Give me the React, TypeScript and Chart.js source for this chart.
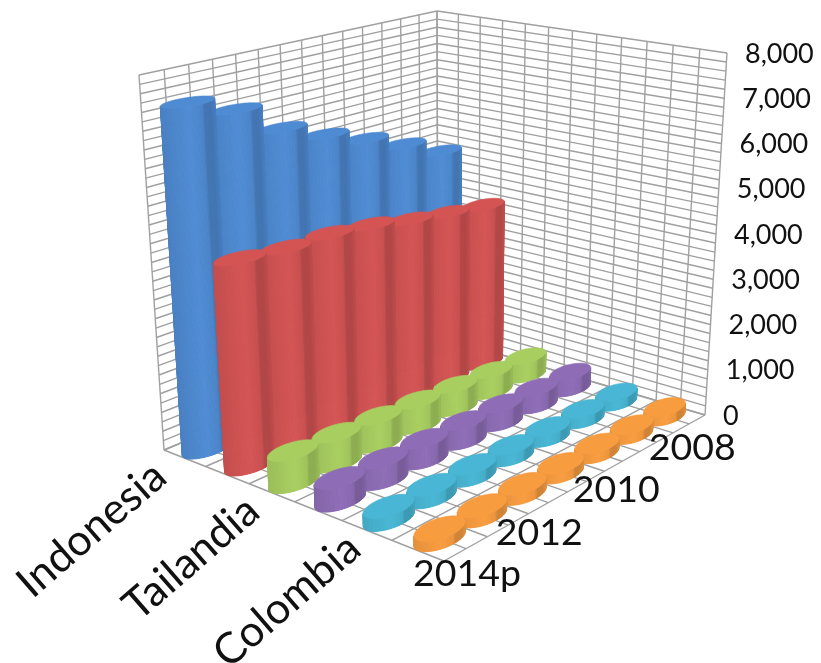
import React, { useEffect, useRef } from "react";
import { Chart, BarController, BarElement, CategoryScale, LinearScale } from "chart.js";

const years = ["2008", "2009", "2010", "2011", "2012", "2013", "2014p"];
const yearTickLabels = ["2008", "", "2010", "", "2012", "", "2014p"];
const seriesLabels = ["Indonesia", "", "Tailandia", "", "Colombia", ""];
const serie1 = [4800, 5220, 5600, 5950, 6350, 7010, 7400];
const serie2 = [3725, 3840, 3970, 4150, 4255, 4255, 4340];
const serie3 = [430, 470, 510, 550, 590, 620, 650];
const serie4 = [370, 390, 410, 420, 430, 440, 450];
const serie5 = [220, 225, 230, 235, 240, 245, 250];
const serie6 = [210, 210, 205, 200, 200, 195, 195];
const allSeries = [serie1, serie2, serie3, serie4, serie5, serie6];
const colors = ["#4f8bd3", "#d45454", "#a8ce60", "#8e6db6", "#48b6d4", "#f89c40"];

type P = [number, number];
const homography = (p0: P, p1: P, p2: P, p3: P) => {
  const dx1 = p1[0] - p2[0], dx2 = p3[0] - p2[0], sx = p0[0] - p1[0] + p2[0] - p3[0];
  const dy1 = p1[1] - p2[1], dy2 = p3[1] - p2[1], sy = p0[1] - p1[1] + p2[1] - p3[1];
  const den = dx1 * dy2 - dx2 * dy1;
  const g = (sx * dy2 - dx2 * sy) / den, h = (dx1 * sy - sx * dy1) / den;
  const a = p1[0] - p0[0] + g * p1[0], b = p3[0] - p0[0] + h * p3[0], c = p0[0];
  const d = p1[1] - p0[1] + g * p1[1], e = p3[1] - p0[1] + h * p3[1], f = p0[1];
  return (u: number, v: number): P => {
    const w = g * u + h * v + 1;
    return [(a * u + b * v + c) / w, (d * u + e * v + f) / w];
  };
};
const floorMap = homography([164, 450], [444, 561], [705, 415], [438, 336]);
const topMap = homography([139, 75], [445, 138], [727, 53], [437, 11]);
const project = (u: number, v: number, h: number): P => {
  const a = floorMap(u, v), b = topMap(u, v);
  return [a[0] + (b[0] - a[0]) * h, a[1] + (b[1] - a[1]) * h];
};

const mix = (hex: string, f: number) => {
  const n = parseInt(hex.slice(1), 16);
  const c = [(n >> 16) & 255, (n >> 8) & 255, n & 255].map((x) =>
    Math.round(f < 1 ? x * f : x + (255 - x) * (f - 1))
  );
  return `rgb(${c[0]},${c[1]},${c[2]})`;
};
const shade = (t: number) => {
  if (t < 0.55) return 0.92 + (t / 0.55) * 0.09;
  if (t < 0.78) return 1.01 - ((t - 0.55) / 0.23) * 0.06;
  if (t < 0.82) return 0.95 - ((t - 0.78) / 0.04) * 0.11;
  if (t < 0.93) return 0.84;
  return 0.84 + ((t - 0.93) / 0.07) * 0.06;
};

const RS = 0.044;
const RV = 0.071;
const STEPS = 96;

class CylinderController extends BarController {
  static id = "cylinder";
  static defaults = BarController.defaults;
  static overrides = BarController.overrides;
  draw() {
    const chart = this.chart as any;
    const ctx: CanvasRenderingContext2D = chart.ctx;
    const sIdx = this.index;
    const xs = chart.scales.x, ys = chart.scales.y;
    const color = (this.getDataset() as any).backgroundColor as string;
    const values = this.getDataset().data as number[];
    values.forEach((val, i) => {
      const vc = (xs.right - xs.getPixelForValue(i)) / xs.width;
      const uc = (sIdx + 0.5) / allSeries.length;
      const h = (ys.bottom - ys.getPixelForValue(val)) / ys.height;
      const bot: P[] = [], top: P[] = [];
      for (let k = 0; k < STEPS; k++) {
        const a = (k / STEPS) * Math.PI * 2;
        const u = uc + RS * Math.cos(a), v = vc + RV * Math.sin(a);
        bot.push(project(u, v, 0));
        top.push(project(u, v, h));
      }
      const bx = bot.map((p) => p[0]);
      const minX = Math.min(...bx), maxX = Math.max(...bx);
      const iMin = bx.indexOf(minX), iMax = bx.indexOf(maxX);
      // walk the arc nearest the viewer from the left extreme to the right extreme
      const midA = (iMin + Math.round(((iMax - iMin + STEPS) % STEPS) / 2)) % STEPS;
      const midB = (iMin - Math.round(((iMin - iMax + STEPS) % STEPS) / 2) + STEPS) % STEPS;
      const dir = bot[midA][1] > bot[midB][1] ? 1 : -1;
      for (let k = iMin; k !== iMax; k = (k + dir + STEPS) % STEPS) {
        const n = (k + dir + STEPS) % STEPS;
        const t = ((bot[k][0] + bot[n][0]) / 2 - minX) / (maxX - minX);
        const c = mix(color, shade(t));
        ctx.fillStyle = c;
        ctx.strokeStyle = c;
        ctx.lineWidth = 1;
        ctx.beginPath();
        ctx.moveTo(bot[k][0], bot[k][1]);
        ctx.lineTo(bot[n][0], bot[n][1]);
        ctx.lineTo(top[n][0], top[n][1]);
        ctx.lineTo(top[k][0], top[k][1]);
        ctx.closePath();
        ctx.fill();
        ctx.stroke();
      }
      ctx.fillStyle = color;
      ctx.strokeStyle = color;
      ctx.lineWidth = 0.6;
      ctx.beginPath();
      top.forEach((p, k) => (k ? ctx.lineTo(p[0], p[1]) : ctx.moveTo(p[0], p[1])));
      ctx.closePath();
      ctx.fill();
      ctx.stroke();
    });
  }
}

Chart.register(CylinderController, BarController, BarElement, CategoryScale, LinearScale);

const yearLabelNudge: P[] = [[3, 24], [0, 0], [-6, 29], [0, 0], [-9, 30], [0, 0], [1, 25]];

const framePlugin = {
  id: "frame3d",
  beforeDatasetsDraw(chart: any) {
    const ctx: CanvasRenderingContext2D = chart.ctx;
    const line = (a: P, b: P) => {
      ctx.beginPath();
      ctx.moveTo(a[0], a[1]);
      ctx.lineTo(b[0], b[1]);
      ctx.stroke();
    };
    ctx.save();
    ctx.strokeStyle = "#a0a0a0";
    ctx.lineWidth = 1.4;
    const nU = allSeries.length * 2, nV = years.length * 2, nH = 40;
    for (let k = 0; k <= nH; k++) {
      line(project(0, 0, k / nH), project(0, 1, k / nH));
      line(project(0, 1, k / nH), project(1, 1, k / nH));
    }
    for (let k = 0; k <= nV; k++) {
      line(project(0, k / nV, 0), project(0, k / nV, 1));
      line(project(0, k / nV, 0), project(1, k / nV, 0));
    }
    for (let k = 0; k <= nU; k++) {
      line(project(k / nU, 1, 0), project(k / nU, 1, 1));
      line(project(k / nU, 0, 0), project(k / nU, 1, 0));
    }
    ctx.restore();
  },
  afterDatasetsDraw(chart: any) {
    const ctx: CanvasRenderingContext2D = chart.ctx;
    const ys = chart.scales.y;
    ctx.save();
    ctx.fillStyle = "#111";
    ctx.textBaseline = "middle";
    ctx.textAlign = "left";
    ctx.font = "27px Lato";
    ys.ticks.forEach((tick: any) => {
      const h = (ys.bottom - ys.getPixelForValue(tick.value)) / ys.height;
      const p = project(1, 1, h);
      ctx.fillText(tick.label, p[0] + 18, p[1] + 1);
    });
    ctx.textAlign = "center";
    ctx.font = "37.5px Lato";
    yearTickLabels.forEach((label, i) => {
      if (!label) return;
      const v = (years.length - 1 - i + 0.5) / years.length;
      const p = project(1, v, 0);
      ctx.fillText(label, p[0] + yearLabelNudge[i][0], p[1] + yearLabelNudge[i][1]);
    });
    ctx.font = "43px Lato";
    ctx.textAlign = "right";
    seriesLabels.forEach((label, i) => {
      if (!label) return;
      const u = (i + 0.5) / seriesLabels.length;
      const p = project(u, 0, 0);
      ctx.save();
      ctx.translate(p[0] - 26 + 18 * u, p[1] + 12);
      ctx.rotate((-41 * Math.PI) / 180);
      ctx.fillText(label, 0, 0);
      ctx.restore();
    });
    ctx.restore();
  },
};

export default function App() {
  const ref = useRef<HTMLCanvasElement>(null);
  useEffect(() => {
    const chart = new Chart(ref.current!, {
      type: "cylinder" as any,
      data: {
        labels: years,
        datasets: allSeries.map((data, i) => ({
          data,
          backgroundColor: colors[i],
          order: allSeries.length - i,
          clip: false,
        })),
      },
      options: {
        responsive: false,
        animation: false,
        layout: { padding: { top: 53, bottom: 248, left: 0, right: 0 } },
        plugins: { legend: { display: false }, tooltip: { enabled: false } },
        scales: {
          x: { type: "category", display: false },
          y: { type: "linear", display: false, min: 0, max: 8000, ticks: { stepSize: 1000 } },
        },
      },
      plugins: [framePlugin],
    } as any);
    return () => chart.destroy();
  }, []);
  return (
    <div style={{ position: "absolute", left: 0, top: 0, width: 821, height: 663, background: "#fff" }}>
      <canvas ref={ref} width={821} height={663} style={{ display: "block" }} />
    </div>
  );
}
